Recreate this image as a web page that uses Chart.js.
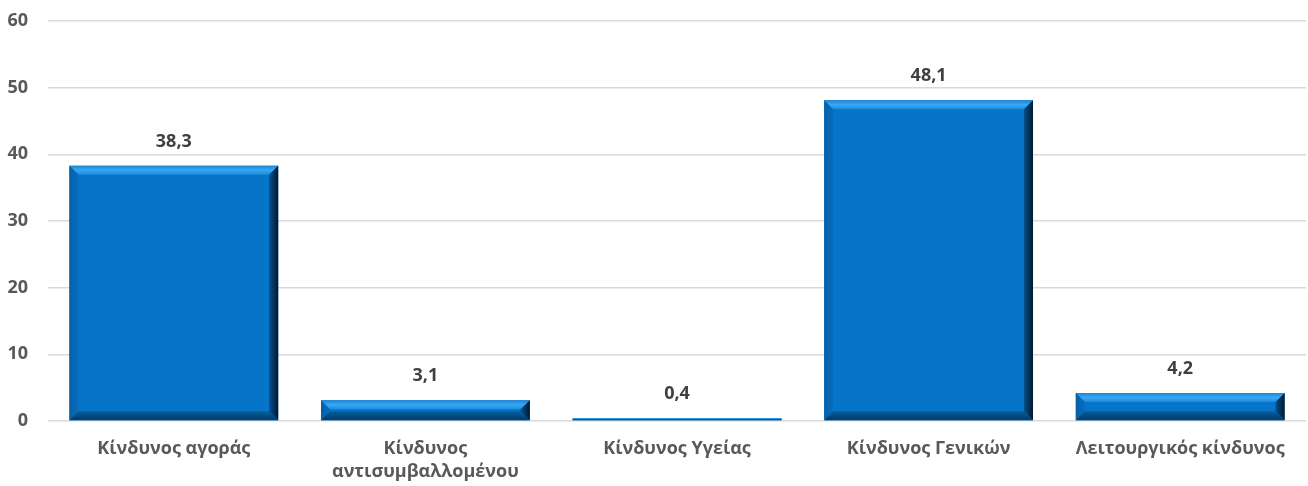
<!DOCTYPE html>
<html>
<head>
<meta charset="utf-8">
<script src="https://cdn.jsdelivr.net/npm/chart.js@4.4.1/dist/chart.umd.min.js"></script>
<style>
  html, body { margin: 0; padding: 0; background: #fff; }
  #wrap { width: 1308px; height: 486px; }
</style>
</head>
<body>
<div id="wrap"><canvas id="chart"></canvas></div>
<script>
const categories = [
    'Κίνδυνος αγοράς',
    ['Κίνδυνος', 'αντισυμβαλλομένου'],
    'Κίνδυνος Υγείας',
    'Κίνδυνος Γενικών',
    'Λειτουργικός κίνδυνος'
]
const values = [38.3, 3.1, 0.4, 48.1, 4.2]
const yTicks = [0, 10, 20, 30, 40, 50, 60]

const textColor = '#595959'
const barColor = '#0674C8'

// draws the bevelled edges over each bar
const bevelPlugin = {
    id: 'bevel',
    afterDatasetsDraw(chart) {
        const ctx = chart.ctx
        const meta = chart.getDatasetMeta(0)
        meta.data.forEach(bar => {
            const l = bar.x - bar.width / 2
            const r = bar.x + bar.width / 2
            const t = Math.min(bar.y, bar.base)
            const b = Math.max(bar.y, bar.base)
            const h = b - t
            const s = Math.min(9, h / 2, bar.width / 2)
            if (s <= 0) return
            const poly = (pts, fill) => {
                ctx.beginPath()
                ctx.moveTo(pts[0][0], pts[0][1])
                for (let i = 1; i < pts.length; i++) ctx.lineTo(pts[i][0], pts[i][1])
                ctx.closePath()
                ctx.fillStyle = fill
                ctx.fill()
            }
            ctx.save()
            let g = ctx.createLinearGradient(0, t, 0, t + s)
            g.addColorStop(0, '#1B86D6')
            g.addColorStop(0.5, '#3AA8F2')
            g.addColorStop(1, '#1B8BDD')
            poly([[l, t], [r, t], [r - s, t + s], [l + s, t + s]], g)
            g = ctx.createLinearGradient(l, 0, l + s, 0)
            g.addColorStop(0, '#0560A6')
            g.addColorStop(1, '#066DBE')
            poly([[l, t], [l + s, t + s], [l + s, b - s], [l, b]], g)
            g = ctx.createLinearGradient(r, 0, r - s, 0)
            g.addColorStop(0, '#00182C')
            g.addColorStop(1, '#05508E')
            poly([[r, t], [r, b], [r - s, b - s], [r - s, t + s]], g)
            g = ctx.createLinearGradient(0, b, 0, b - s)
            g.addColorStop(0, '#033A68')
            g.addColorStop(1, '#055E9C')
            poly([[l, b], [l + s, b - s], [r - s, b - s], [r, b]], g)
            ctx.restore()
        })
    }
}

const valueLabelPlugin = {
    id: 'valueLabels',
    afterDatasetsDraw(chart) {
        const ctx = chart.ctx
        const meta = chart.getDatasetMeta(0)
        ctx.save()
        ctx.font = 'bold 18px "Open Sans", sans-serif'
        ctx.fillStyle = '#404040'
        ctx.textAlign = 'center'
        ctx.textBaseline = 'middle'
        meta.data.forEach((bar, i) => {
            ctx.fillText(values[i].toFixed(1).replace('.', ','), bar.x, bar.y - 24)
        })
        ctx.restore()
    }
}

new Chart(document.getElementById('chart'), {
    type: 'bar',
    data: {
        labels: categories,
        datasets: [{
            data: values,
            backgroundColor: barColor,
            borderWidth: 0,
            categoryPercentage: 0.83,
            barPercentage: 1
        }]
    },
    options: {
        responsive: true,
        maintainAspectRatio: false,
        animation: false,
        layout: {padding: {top: 21, right: 2, left: 0, bottom: 0}},
        plugins: {
            legend: {display: false},
            tooltip: {enabled: false}
        },
        scales: {
            x: {
                afterFit: (axis) => { axis.height = 65 },
                grid: {display: false},
                border: {display: false},
                ticks: {
                    color: textColor,
                    font: {family: '"Open Sans", sans-serif', size: 18, weight: 'bold', lineHeight: 1.28},
                    padding: 8,
                    maxRotation: 0,
                    autoSkip: false
                }
            },
            y: {
                min: 0,
                max: 60,
                afterBuildTicks: (axis) => { axis.ticks = yTicks.map(v => ({value: v})) },
                afterFit: (axis) => {
                    axis.width = 48
                    axis.paddingTop = 0
                    axis.paddingBottom = 0
                },
                grid: {color: '#D9D9D9', lineWidth: 1.5, drawTicks: false},
                border: {display: false},
                ticks: {
                    color: textColor,
                    font: {family: '"Open Sans", sans-serif', size: 18, weight: 'bold'},
                    padding: 20
                }
            }
        }
    },
    plugins: [bevelPlugin, valueLabelPlugin]
})
</script>
</body>
</html>
